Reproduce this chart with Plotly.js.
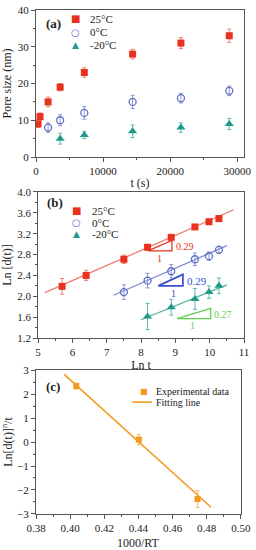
<!DOCTYPE html>
<html>
<head>
<meta charset="utf-8">
<script src="https://cdn.plot.ly/plotly-3.0.1.min.js"></script>
<style>html,body{margin:0;padding:0;background:#fff;}#chart{width:256px;height:550px;}</style>
</head>
<body>
<div id="chart"></div>
<script>
// ---------- Panel (a): pore size vs time ----------
const tA25 = [300, 600, 1800, 3600, 7200, 14400, 21600, 28800];
const dA25 = [9, 11, 15, 19, 23, 28, 31, 33];
const eA25 = [1.0, 1.0, 1.3, 1.0, 1.3, 1.3, 1.5, 1.8];
const tA0 = [1800, 3600, 7200, 14400, 21600, 28800];
const dA0 = [8, 10, 12, 15, 16, 18];
const eA0 = [1.3, 1.5, 1.7, 1.8, 1.3, 1.3];
const tAm20 = [3600, 7200, 14400, 21600, 28800];
const dAm20 = [5, 6, 7, 8, 9];
const eAm20 = [1.5, 1.0, 1.7, 1.3, 1.5];

// ---------- Panel (b): Ln d(t) vs Ln t ----------
const lnt25 = [5.70, 6.40, 7.50, 8.19, 8.88, 9.57, 9.98, 10.27];
const lnd25 = [2.19, 2.40, 2.71, 2.94, 3.13, 3.33, 3.43, 3.49];
const elnd25 = [0.15, 0.10, 0.08, 0.05, 0.05, 0.04, 0.04, 0.04];
const lnt0 = [7.50, 8.19, 8.88, 9.57, 9.98, 10.27];
const lnd0 = [2.08, 2.30, 2.48, 2.71, 2.77, 2.89];
const elnd0 = [0.14, 0.14, 0.13, 0.12, 0.08, 0.07];
const lntm20 = [8.19, 8.88, 9.57, 9.98, 10.27];
const lndm20 = [1.61, 1.79, 1.95, 2.08, 2.20];
const elndm20 = [0.25, 0.15, 0.20, 0.12, 0.15];
// fitted lines (end points)
const fit25X = [5.2, 10.7];   const fit25Y = [2.07, 3.66];
const fit0X = [7.2, 10.5];    const fit0Y = [2.02, 2.97];
const fitm20X = [8.0, 10.5];  const fitm20Y = [1.55, 2.22];
// slope triangles
const tri25X = [8.2, 8.9, 8.9, 8.2];     const tri25Y = [2.87, 2.87, 3.07, 2.87];
const tri0X = [8.5, 9.22, 9.22, 8.5];    const tri0Y = [2.20, 2.20, 2.42, 2.20];
const trim20X = [9.05, 10.03, 10.03, 9.05]; const trim20Y = [1.57, 1.57, 1.77, 1.57];
const slopeLabels = ["0.29", "0.29", "0.27"];

// ---------- Panel (c): Arrhenius ----------
const invRT = [0.4036, 0.4402, 0.4746];
const lnK = [2.33, 0.10, -2.38];
const elnK = [0.12, 0.22, 0.35];
const fitCX = [0.3965, 0.4825];
const fitCY = [2.82, -2.72];

const seriesNames = ["25°C", "0°C", "-20°C"];
const legendCNames = ["Experimental data", "Fitting line"];
const cRed = "#e8321e", cBlue = "#5f6fc4", cTeal = "#1f9a8a", cGreen = "#5fcf4f", cOrange = "#f39a1e";
const FONT = "Liberation Serif, Times New Roman, serif";
const GLYPH = "DejaVu Sans, sans-serif";

const traces = [
  // panel a
  {x: tA25, y: dA25, error_y: {type:'data', array: eA25, color:'#f08070', thickness:1, width:2},
   type:'scatter', mode:'markers', name: seriesNames[0],
   marker:{symbol:'square', size:7, color:cRed}, xaxis:'x', yaxis:'y'},
  {x: tA0, y: dA0, error_y: {type:'data', array: eA0, color:'#8a96d8', thickness:1, width:2},
   type:'scatter', mode:'markers', name: seriesNames[1],
   marker:{symbol:'circle-open', size:7, color:cBlue, line:{width:1.3, color:cBlue}}, xaxis:'x', yaxis:'y'},
  {x: tAm20, y: dAm20, error_y: {type:'data', array: eAm20, color:'#5fb8ad', thickness:1, width:2},
   type:'scatter', mode:'markers', name: seriesNames[2],
   marker:{symbol:'triangle-up', size:8, color:cTeal}, xaxis:'x', yaxis:'y'},
  // panel b fit lines
  {x: fit25X, y: fit25Y, mode:'lines', line:{color:'#ec7a70', width:1.3}, hoverinfo:'skip', xaxis:'x2', yaxis:'y2'},
  {x: fit0X, y: fit0Y, mode:'lines', line:{color:'#7d8bd6', width:1.3}, hoverinfo:'skip', xaxis:'x2', yaxis:'y2'},
  {x: fitm20X, y: fitm20Y, mode:'lines', line:{color:'#55b0a2', width:1.3}, hoverinfo:'skip', xaxis:'x2', yaxis:'y2'},
  // panel b triangles
  {x: tri25X, y: tri25Y, mode:'lines', line:{color:cRed, width:1.3}, hoverinfo:'skip', xaxis:'x2', yaxis:'y2'},
  {x: tri0X, y: tri0Y, mode:'lines', line:{color:'#3a4fd0', width:1.7}, hoverinfo:'skip', xaxis:'x2', yaxis:'y2'},
  {x: trim20X, y: trim20Y, mode:'lines', line:{color:cGreen, width:1.3}, hoverinfo:'skip', xaxis:'x2', yaxis:'y2'},
  // panel b data
  {x: lnt25, y: lnd25, error_y: {type:'data', array: elnd25, color:'#f08070', thickness:1, width:2},
   type:'scatter', mode:'markers', name: seriesNames[0],
   marker:{symbol:'square', size:7, color:cRed}, xaxis:'x2', yaxis:'y2'},
  {x: lnt0, y: lnd0, error_y: {type:'data', array: elnd0, color:'#8a96d8', thickness:1, width:2},
   type:'scatter', mode:'markers', name: seriesNames[1],
   marker:{symbol:'circle-open', size:7, color:cBlue, line:{width:1.3, color:cBlue}}, xaxis:'x2', yaxis:'y2'},
  {x: lntm20, y: lndm20, error_y: {type:'data', array: elndm20, color:'#5fb8ad', thickness:1, width:2},
   type:'scatter', mode:'markers', name: seriesNames[2],
   marker:{symbol:'triangle-up', size:8, color:cTeal}, xaxis:'x2', yaxis:'y2'},
  // panel c
  {x: invRT, y: lnK, error_y: {type:'data', array: elnK, color:'#f6b860', thickness:1, width:2},
   type:'scatter', mode:'markers', name: legendCNames[0],
   marker:{symbol:'square', size:6, color:cOrange}, xaxis:'x3', yaxis:'y3'},
  {x: fitCX, y: fitCY, mode:'lines', name: legendCNames[1],
   line:{color:cOrange, width:1.6}, xaxis:'x3', yaxis:'y3'}
];

function ax(extra) {
  return Object.assign({
    showline:true, linecolor:'#555', linewidth:1, mirror:true,
    ticks:'outside', ticklen:4, tickwidth:1, tickcolor:'#555',
    showgrid:false, zeroline:false,
    tickfont:{family:FONT, size:11, color:'#222'}
  }, extra);
}
const minorT = (d) => ({ticks:'outside', ticklen:2, tickcolor:'#555', dtick:d, showgrid:false});
const ttl = (t, s) => ({text:t, font:{family:FONT, size:12, color:'#222'}, standoff:s});

// manual compact legend entries (glyph + label), placed in axis-domain coords
function legendEntry(xr, yr, gx, tx, y, glyph, gcolor, gsize, label, fsize) {
  return [
    {text: glyph, xref: xr, yref: yr, x: gx, y: y, xanchor:'center', yanchor:'middle', showarrow:false,
     font:{family:GLYPH, size:gsize, color:gcolor}},
    {text: label, xref: xr, yref: yr, x: tx, y: y, xanchor:'left', yanchor:'middle', showarrow:false,
     font:{family:FONT, size:fsize || 11, color:'#222'}}
  ];
}

const annotations = [
  {text:'<b>(a)</b>', xref:'x domain', yref:'y domain', x:0.04, y:0.91, xanchor:'left', yanchor:'middle', showarrow:false, font:{family:FONT, size:13, color:'#222'}},
  {text:'<b>(b)</b>', xref:'x2 domain', yref:'y2 domain', x:0.035, y:0.925, xanchor:'left', yanchor:'middle', showarrow:false, font:{family:FONT, size:13, color:'#222'}},
  {text:'<b>(c)</b>', xref:'x3 domain', yref:'y3 domain', x:0.04, y:0.887, xanchor:'left', yanchor:'middle', showarrow:false, font:{family:FONT, size:13, color:'#222'}},
  // x-axis title of panel (c), placed just below its tick labels
  {text:'1000/RT', xref:'x3 domain', yref:'paper', x:0.5, y:-0.0575, xanchor:'center', yanchor:'middle', showarrow:false, font:{family:FONT, size:12, color:'#222'}},
  {text:slopeLabels[0], xref:'x2', yref:'y2', x:tri25X[1]+0.05, y:2.95, xanchor:'left', yanchor:'middle', showarrow:false, font:{family:FONT, size:10, color:cRed}},
  {text:'1', xref:'x2', yref:'y2', x:(tri25X[0]+tri25X[1])/2, y:2.73, xanchor:'center', yanchor:'middle', showarrow:false, font:{family:FONT, size:10, color:cRed}},
  {text:slopeLabels[1], xref:'x2', yref:'y2', x:tri0X[1]+0.05, y:2.30, xanchor:'left', yanchor:'middle', showarrow:false, font:{family:FONT, size:11, color:'#3a4fd0'}},
  {text:'1', xref:'x2', yref:'y2', x:(tri0X[0]+tri0X[1])/2+0.1, y:2.06, xanchor:'center', yanchor:'middle', showarrow:false, font:{family:FONT, size:10, color:'#3a4fd0'}},
  {text:slopeLabels[2], xref:'x2', yref:'y2', x:trim20X[1]+0.05, y:1.66, xanchor:'left', yanchor:'middle', showarrow:false, font:{family:FONT, size:10, color:cGreen}},
  {text:'1', xref:'x2', yref:'y2', x:(trim20X[0]+trim20X[1])/2-0.05, y:1.44, xanchor:'center', yanchor:'middle', showarrow:false, font:{family:FONT, size:10, color:cGreen}}
]
  .concat(legendEntry('x domain', 'y domain', 0.192, 0.25, 0.939, '■', cRed, 10, seriesNames[0]))
  .concat(legendEntry('x domain', 'y domain', 0.192, 0.25, 0.850, '○', cBlue, 10, seriesNames[1]))
  .concat(legendEntry('x domain', 'y domain', 0.192, 0.25, 0.762, '▲', cTeal, 9, seriesNames[2]))
  .concat(legendEntry('x2 domain', 'y2 domain', 0.188, 0.252, 0.872, '■', cRed, 10, seriesNames[0]))
  .concat(legendEntry('x2 domain', 'y2 domain', 0.188, 0.252, 0.790, '○', cBlue, 10, seriesNames[1]))
  .concat(legendEntry('x2 domain', 'y2 domain', 0.188, 0.252, 0.712, '▲', cTeal, 9, seriesNames[2]))
  .concat(legendEntry('x3 domain', 'y3 domain', 0.525, 0.578, 0.853, '■', cOrange, 8, legendCNames[0], 10))
  .concat([{text: legendCNames[1], xref:'x3 domain', yref:'y3 domain', x:0.578, y:0.777, xanchor:'left', yanchor:'middle', showarrow:false,
     font:{family:FONT, size:10, color:'#222'}}]);

const layout = {
  width:256, height:550,
  margin:{l:36, r:12, t:10, b:36},
  paper_bgcolor:'#fff', plot_bgcolor:'#fff',
  font:{family:FONT, color:'#222'},
  showlegend:false,
  xaxis: ax({domain:[0,1], anchor:'y', range:[0,31000], dtick:10000, tickformat:'d',
             minor:minorT(5000), title:ttl('t (s)', 2)}),
  yaxis: ax({domain:[0.7083,1], anchor:'x', range:[0,40], dtick:10,
             minor:minorT(5), title:ttl('Pore size (nm)', 4)}),
  xaxis2: ax({domain:[0.01,1], anchor:'y2', range:[5,11], dtick:1,
             minor:minorT(0.5), title:ttl('Ln t', 2)}),
  yaxis2: ax({domain:[0.3492,0.6389], anchor:'x2', range:[1.2,4.0], dtick:0.4, tickformat:'.1f',
             minor:minorT(0.2), title:ttl('Ln [d(t)]', 4)}),
  xaxis3: ax({domain:[0,0.985], anchor:'y3', range:[0.38,0.50], dtick:0.02, tickformat:'.2f',
             minor:minorT(0.01)}),
  yaxis3: ax({domain:[0,0.2857], anchor:'x3', range:[-3,3], dtick:1,
             minor:minorT(0.5), title:ttl('Ln[d(t)]<sup>n</sup>/t', 4)}),
  shapes: [
    {type:'line', xref:'x3 domain', yref:'y3 domain', x0:0.47, x1:0.565, y0:0.777, y1:0.777,
     line:{color:cOrange, width:1.6}}
  ],
  annotations: annotations
};

Plotly.newPlot('chart', traces, layout, {staticPlot:true, displayModeBar:false});
</script>
</body>
</html>
